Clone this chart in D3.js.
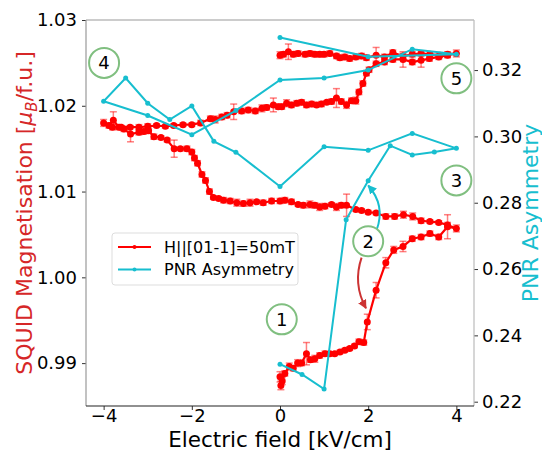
<!DOCTYPE html>
<html>
<head>
<meta charset="utf-8">
<script src="https://cdn.jsdelivr.net/npm/d3@7"></script>
<style>
  body { margin: 0; background: #fff; }
  svg { display: block; font-family: 'DejaVu Sans', sans-serif; }
</style>
</head>
<body>
<svg id="chart" width="542" height="452"></svg>
<script>
// SQUID sweeps: [field kV/cm, moment muB/f.u., error]
const sweepUp1 = [
  [0.00, 0.9884, 0.0006], [0.02, 0.9874, 0.0005], [0.05, 0.9879, 0.0004], [0.11, 0.9888, 0.0003],
  [0.21, 0.9896, 0.0004], [0.30, 0.9894, 0.0003], [0.40, 0.9900, 0.0004], [0.49, 0.9900, 0.0003],
  [0.60, 0.9911, 0.0013], [0.69, 0.9904, 0.0003], [0.79, 0.9905, 0.0004], [0.90, 0.9909, 0.0003],
  [1.02, 0.9911, 0.0003], [1.13, 0.9911, 0.0002], [1.24, 0.9911, 0.0002], [1.36, 0.9913, 0.0002],
  [1.47, 0.9915, 0.0002], [1.58, 0.9917, 0.0002], [1.69, 0.9920, 0.0002], [1.79, 0.9925, 0.0003],
  [1.90, 0.9924, 0.0003], [1.98, 0.9948, 0.0009], [2.18, 0.9985, 0.0009], [2.40, 1.0017, 0.0006],
  [2.58, 1.0032, 0.0004], [2.79, 1.0036, 0.0006], [3.00, 1.0045, 0.0003], [3.20, 1.0047, 0.0003],
  [3.40, 1.0051, 0.0003], [3.60, 1.0047, 0.0003], [3.80, 1.0059, 0.0014], [4.00, 1.0057, 0.0004]
];
const sweepDown1 = [
  [3.80, 1.0061, 0.0003], [3.60, 1.0064, 0.0002], [3.40, 1.0065, 0.0002], [3.20, 1.0066, 0.0003],
  [3.01, 1.0071, 0.0004], [2.80, 1.0073, 0.0004], [2.60, 1.0071, 0.0003], [2.40, 1.0071, 0.0003],
  [2.18, 1.0075, 0.0002], [2.00, 1.0076, 0.0002], [1.85, 1.0078, 0.0002], [1.72, 1.0079, 0.0002],
  [1.51, 1.0084, 0.0013], [1.39, 1.0084, 0.0003], [1.28, 1.0082, 0.0004], [1.17, 1.0085, 0.0002],
  [1.02, 1.0083, 0.0003], [0.90, 1.0082, 0.0004], [0.79, 1.0084, 0.0003], [0.68, 1.0085, 0.0004],
  [0.53, 1.0084, 0.0003], [0.41, 1.0085, 0.0002], [0.26, 1.0088, 0.0003], [0.11, 1.0090, 0.0003],
  [0.00, 1.0089, 0.0003], [-0.19, 1.0089, 0.0003], [-0.38, 1.0087, 0.0003], [-0.53, 1.0088, 0.0002],
  [-0.68, 1.0087, 0.0004], [-0.83, 1.0086, 0.0003], [-0.98, 1.0087, 0.0004], [-1.13, 1.0089, 0.0003],
  [-1.28, 1.0090, 0.0003], [-1.39, 1.0092, 0.0002], [-1.51, 1.0093, 0.0002], [-1.60, 1.0100, 0.0003],
  [-1.69, 1.0113, 0.0003], [-1.77, 1.0120, 0.0003], [-1.87, 1.0133, 0.0003], [-1.94, 1.0139, 0.0003],
  [-2.00, 1.0146, 0.0003], [-2.11, 1.0150, 0.0003], [-2.26, 1.0150, 0.0002], [-2.40, 1.0150, 0.0010],
  [-2.56, 1.0160, 0.0002], [-2.70, 1.0163, 0.0002], [-2.86, 1.0164, 0.0003], [-2.98, 1.0171, 0.0003],
  [-3.09, 1.0170, 0.0003], [-3.20, 1.0169, 0.0003], [-3.39, 1.0167, 0.0009], [-3.54, 1.0173, 0.0003],
  [-3.65, 1.0175, 0.0003], [-3.78, 1.0183, 0.0010], [-3.88, 1.0177, 0.0003], [-4.00, 1.0180, 0.0004]
];
const sweepUp2 = [
  [-3.80, 1.0175, 0.0003], [-3.60, 1.0175, 0.0002], [-3.40, 1.0175, 0.0002], [-3.20, 1.0175, 0.0003],
  [-3.00, 1.0176, 0.0003], [-2.80, 1.0177, 0.0002], [-2.60, 1.0176, 0.0002], [-2.41, 1.0177, 0.0002],
  [-2.20, 1.0178, 0.0002], [-2.00, 1.0178, 0.0002], [-1.80, 1.0180, 0.0003], [-1.58, 1.0185, 0.0003],
  [-1.47, 1.0184, 0.0004], [-1.32, 1.0187, 0.0003], [-1.20, 1.0189, 0.0003], [-1.05, 1.0193, 0.0009],
  [-0.87, 1.0194, 0.0003], [-0.72, 1.0195, 0.0003], [-0.56, 1.0194, 0.0003], [-0.41, 1.0197, 0.0004],
  [-0.30, 1.0198, 0.0003], [-0.15, 1.0201, 0.0008], [-0.04, 1.0199, 0.0003], [0.04, 1.0199, 0.0003],
  [0.15, 1.0203, 0.0004], [0.26, 1.0201, 0.0003], [0.38, 1.0203, 0.0003], [0.49, 1.0204, 0.0003],
  [0.60, 1.0201, 0.0003], [0.72, 1.0202, 0.0003], [0.83, 1.0201, 0.0002], [0.94, 1.0202, 0.0003],
  [1.06, 1.0204, 0.0002], [1.17, 1.0205, 0.0003], [1.28, 1.0209, 0.0011], [1.39, 1.0205, 0.0003],
  [1.51, 1.0201, 0.0004], [1.62, 1.0206, 0.0003], [1.72, 1.0206, 0.0004], [1.79, 1.0216, 0.0003],
  [1.88, 1.0226, 0.0003], [1.96, 1.0238, 0.0003], [2.02, 1.0242, 0.0003], [2.18, 1.0249, 0.0003],
  [2.37, 1.0251, 0.0003], [2.56, 1.0254, 0.0003], [2.79, 1.0254, 0.0009], [3.00, 1.0251, 0.0003],
  [3.20, 1.0253, 0.0008], [3.39, 1.0255, 0.0003], [3.60, 1.0257, 0.0003], [3.80, 1.0259, 0.0003],
  [4.00, 1.0261, 0.0004]
];
const sweepDown2 = [
  [3.80, 1.0260, 0.0003], [3.62, 1.0259, 0.0003], [3.40, 1.0260, 0.0003], [3.20, 1.0261, 0.0003],
  [3.00, 1.0260, 0.0003], [2.79, 1.0258, 0.0003], [2.56, 1.0262, 0.0003], [2.37, 1.0257, 0.0003],
  [2.18, 1.0259, 0.0009], [1.96, 1.0256, 0.0003], [1.85, 1.0258, 0.0003], [1.72, 1.0257, 0.0003],
  [1.58, 1.0255, 0.0003], [1.47, 1.0257, 0.0003], [1.36, 1.0256, 0.0003], [1.28, 1.0258, 0.0003],
  [1.13, 1.0261, 0.0003], [1.00, 1.0260, 0.0003], [0.90, 1.0260, 0.0003], [0.79, 1.0260, 0.0003],
  [0.68, 1.0261, 0.0003], [0.57, 1.0260, 0.0003], [0.41, 1.0261, 0.0003], [0.30, 1.0260, 0.0003],
  [0.19, 1.0263, 0.0009], [0.08, 1.0260, 0.0003], [0.00, 1.0259, 0.0004]
];

// PNR asymmetry, in measuring order
const pnrField = [0, 0.5, 1, 1.5, 2, 2.5, 3, 3.5, 4, 3, 2, 1, 0, -1, -1.5, -2, -2.5, -3, -3.5, -4,
  -3, -2, -1, 0, 1, 2, 3, 4, 2, 0];
const pnrAsym = [0.2313, 0.2282, 0.2238, 0.2749, 0.2866, 0.2972, 0.2944, 0.2953, 0.2964, 0.3009,
  0.2958, 0.2969, 0.2849, 0.2952, 0.2985, 0.3092, 0.3051, 0.3100, 0.3176, 0.3106,
  0.3063, 0.3005, 0.3078, 0.3170, 0.3176, 0.3200, 0.3263, 0.3248, 0.3240, 0.3298];

const xTicks = [-4, -2, 0, 2, 4];
const leftTicks = [0.99, 1.00, 1.01, 1.02, 1.03];
const rightTicks = [0.22, 0.24, 0.26, 0.28, 0.30, 0.32];

// numbered steps (left axis units)
const stepLabels = ['1', '2', '3', '4', '5'];
const stepField = [0.04, 2.0, 4.0, -3.99, 4.0];
const stepMoment = [0.9951, 1.0042, 1.0113, 1.0250, 1.0232];

// SETUP
const svg = d3.select('#chart'),
  margin = { top: 20, right: 68, bottom: 46, left: 86 },
  width = 542 - margin.left - margin.right,
  height = 452 - margin.top - margin.bottom;

const x = d3.scaleLinear().domain([-4.4, 4.4]).range([0, width]);
const yL = d3.scaleLinear().domain([0.985, 1.03]).range([height, 0]);
const yR = d3.scaleLinear().domain([0.2187, 0.3351]).range([height, 0]);

const red = '#ff0000', cyan = '#17becf';

const g = svg.append('g')
  .attr('transform', 'translate(' + margin.left + ',' + margin.top + ')');

// AXES
function styleAxis(sel) {
  sel.select('.domain').remove();
  sel.selectAll('.tick line').attr('stroke', '#333').attr('stroke-width', 1);
  sel.selectAll('.tick text').attr('fill', '#000').style('font-size', '18px')
    .style('font-family', 'DejaVu Sans, sans-serif');
}

g.append('g')
  .attr('transform', 'translate(0,' + height + ')')
  .call(d3.axisBottom(x).tickValues(xTicks).tickFormat(d3.format('d')).tickSize(4).tickPadding(3))
  .call(styleAxis)
  .selectAll('.tick text').attr('dy', '0.5em');

g.append('g')
  .call(d3.axisLeft(yL).tickValues(leftTicks).tickFormat(d3.format('.2f')).tickSize(4).tickPadding(5))
  .call(styleAxis);

g.append('g')
  .attr('transform', 'translate(' + width + ',0)')
  .call(d3.axisRight(yR).tickValues(rightTicks).tickFormat(d3.format('.2f')).tickSize(4).tickPadding(4))
  .call(styleAxis);

// SPINES
g.append('line').attr('x1', 0).attr('x2', width).attr('y1', 0).attr('y2', 0)
  .attr('stroke', '#999').attr('stroke-width', 1.2);
g.append('line').attr('x1', 0).attr('x2', 0).attr('y1', 0).attr('y2', height)
  .attr('stroke', '#999').attr('stroke-width', 1.2);
g.append('line').attr('x1', width).attr('x2', width).attr('y1', 0).attr('y2', height)
  .attr('stroke', '#bbb').attr('stroke-width', 1.2);
g.append('line').attr('x1', 0).attr('x2', width).attr('y1', height).attr('y2', height)
  .attr('stroke', '#222').attr('stroke-width', 1.2);

// SQUID DATA
const squid = sweepUp1.concat(sweepDown1, sweepUp2, sweepDown2)
  .map(d => ({ e: d[0], m: d[1], err: d[2] }));

const errG = g.append('g').attr('stroke', red).attr('stroke-opacity', 0.5).attr('stroke-width', 1.5);
squid.forEach(d => {
  const cx = x(d.e), top = yL(d.m + d.err), bot = yL(d.m - d.err);
  errG.append('line').attr('x1', cx).attr('x2', cx).attr('y1', top).attr('y2', bot);
  errG.append('line').attr('x1', cx - 3.5).attr('x2', cx + 3.5).attr('y1', top).attr('y2', top);
  errG.append('line').attr('x1', cx - 3.5).attr('x2', cx + 3.5).attr('y1', bot).attr('y2', bot);
});

g.append('path')
  .datum(squid)
  .attr('fill', 'none')
  .attr('stroke', red)
  .attr('stroke-width', 2.2)
  .attr('d', d3.line().x(d => x(d.e)).y(d => yL(d.m)));

g.selectAll('.sq-dot').data(squid).enter()
  .append('circle')
  .attr('class', 'sq-dot')
  .attr('cx', d => x(d.e))
  .attr('cy', d => yL(d.m))
  .attr('r', 3.5)
  .attr('fill', red);

// PNR DATA
const pnr = pnrField.map((e, i) => ({ e: e, a: pnrAsym[i] }));

g.append('path')
  .datum(pnr)
  .attr('fill', 'none')
  .attr('stroke', cyan)
  .attr('stroke-width', 2)
  .attr('d', d3.line().x(d => x(d.e)).y(d => yR(d.a)));

g.selectAll('.pnr-dot').data(pnr).enter()
  .append('circle')
  .attr('class', 'pnr-dot')
  .attr('cx', d => x(d.e))
  .attr('cy', d => yR(d.a))
  .attr('r', 2.5)
  .attr('fill', cyan);

// ARROWS
const defs = svg.append('defs');
[['head-cyan', cyan], ['head-red', '#cc3333']].forEach(m => {
  defs.append('marker')
    .attr('id', m[0])
    .attr('viewBox', '0 0 10 10')
    .attr('refX', 9).attr('refY', 5)
    .attr('markerWidth', 4.5).attr('markerHeight', 4.5)
    .attr('markerUnits', 'strokeWidth')
    .attr('orient', 'auto')
    .append('path').attr('d', 'M0,0L10,5L0,10z').attr('fill', m[1]);
});

function arc(p0, p1, rad) {
  const mx = (p0[0] + p1[0]) / 2, my = (p0[1] + p1[1]) / 2,
    dx = p1[0] - p0[0], dy = p1[1] - p0[1];
  const cx = mx - rad * dy, cy = my + rad * dx;
  return 'M' + p0[0] + ',' + p0[1] + 'Q' + cx + ',' + cy + ' ' + p1[0] + ',' + p1[1];
}

g.append('path')
  .attr('d', arc([x(2.19), yR(0.2717)], [x(2.0), yR(0.2852)], 0.3))
  .attr('fill', 'none').attr('stroke', cyan).attr('stroke-width', 2)
  .attr('marker-end', 'url(#head-cyan)');

g.append('path')
  .attr('d', arc([x(1.85), yL(1.0023)], [x(1.95), yL(0.9964)], 0.22))
  .attr('fill', 'none').attr('stroke', '#cc3333').attr('stroke-width', 2)
  .attr('marker-end', 'url(#head-red)');

// STEP LABELS
stepLabels.forEach((s, i) => {
  const cx = x(stepField[i]), cy = yL(stepMoment[i]);
  g.append('circle').attr('cx', cx).attr('cy', cy).attr('r', 15)
    .attr('fill', '#fff').attr('stroke', '#80bf80').attr('stroke-width', 2);
  g.append('text').attr('x', cx).attr('y', cy).attr('dy', '0.36em')
    .attr('text-anchor', 'middle').style('font-size', '18px').text(s);
});

// LEGEND
const leg = svg.append('g').attr('transform', 'translate(112,233)');
leg.append('rect').attr('width', 186).attr('height', 52).attr('rx', 3)
  .attr('fill', '#fff').attr('fill-opacity', 0.8).attr('stroke', '#ddd');
[['H||[01-1]=50mT', red], ['PNR Asymmetry', cyan]].forEach((d, i) => {
  const ly = 14 + i * 22.5;
  leg.append('line').attr('x1', 6).attr('x2', 39).attr('y1', ly).attr('y2', ly)
    .attr('stroke', d[1]).attr('stroke-width', 2);
  leg.append('circle').attr('cx', 22.5).attr('cy', ly).attr('r', 2).attr('fill', d[1]);
  leg.append('text').attr('x', 52).attr('y', ly + 5.5).style('font-size', '16px').text(d[0]);
});

// AXIS LABELS
svg.append('text')
  .attr('x', margin.left + width / 2).attr('y', 447)
  .attr('text-anchor', 'middle').style('font-size', '21.5px')
  .text('Electric field [kV/cm]');

const yl = svg.append('text')
  .attr('transform', 'translate(32,' + (margin.top + height / 2) + ') rotate(-90)')
  .attr('text-anchor', 'middle').style('font-size', '22px').attr('fill', '#d62728');
yl.append('tspan').text('SQUID Magnetisation [');
yl.append('tspan').style('font-style', 'italic').text('μ');
yl.append('tspan').attr('dy', '0.3em').style('font-size', '15px').style('font-style', 'italic').text('B');
yl.append('tspan').attr('dy', '-0.2em').text('/f.u.]');

svg.append('text')
  .attr('transform', 'translate(538,' + (margin.top + height / 2) + ') rotate(-90)')
  .attr('text-anchor', 'middle').style('font-size', '22px').attr('fill', cyan)
  .text('PNR Asymmetry');
</script>
</body>
</html>
